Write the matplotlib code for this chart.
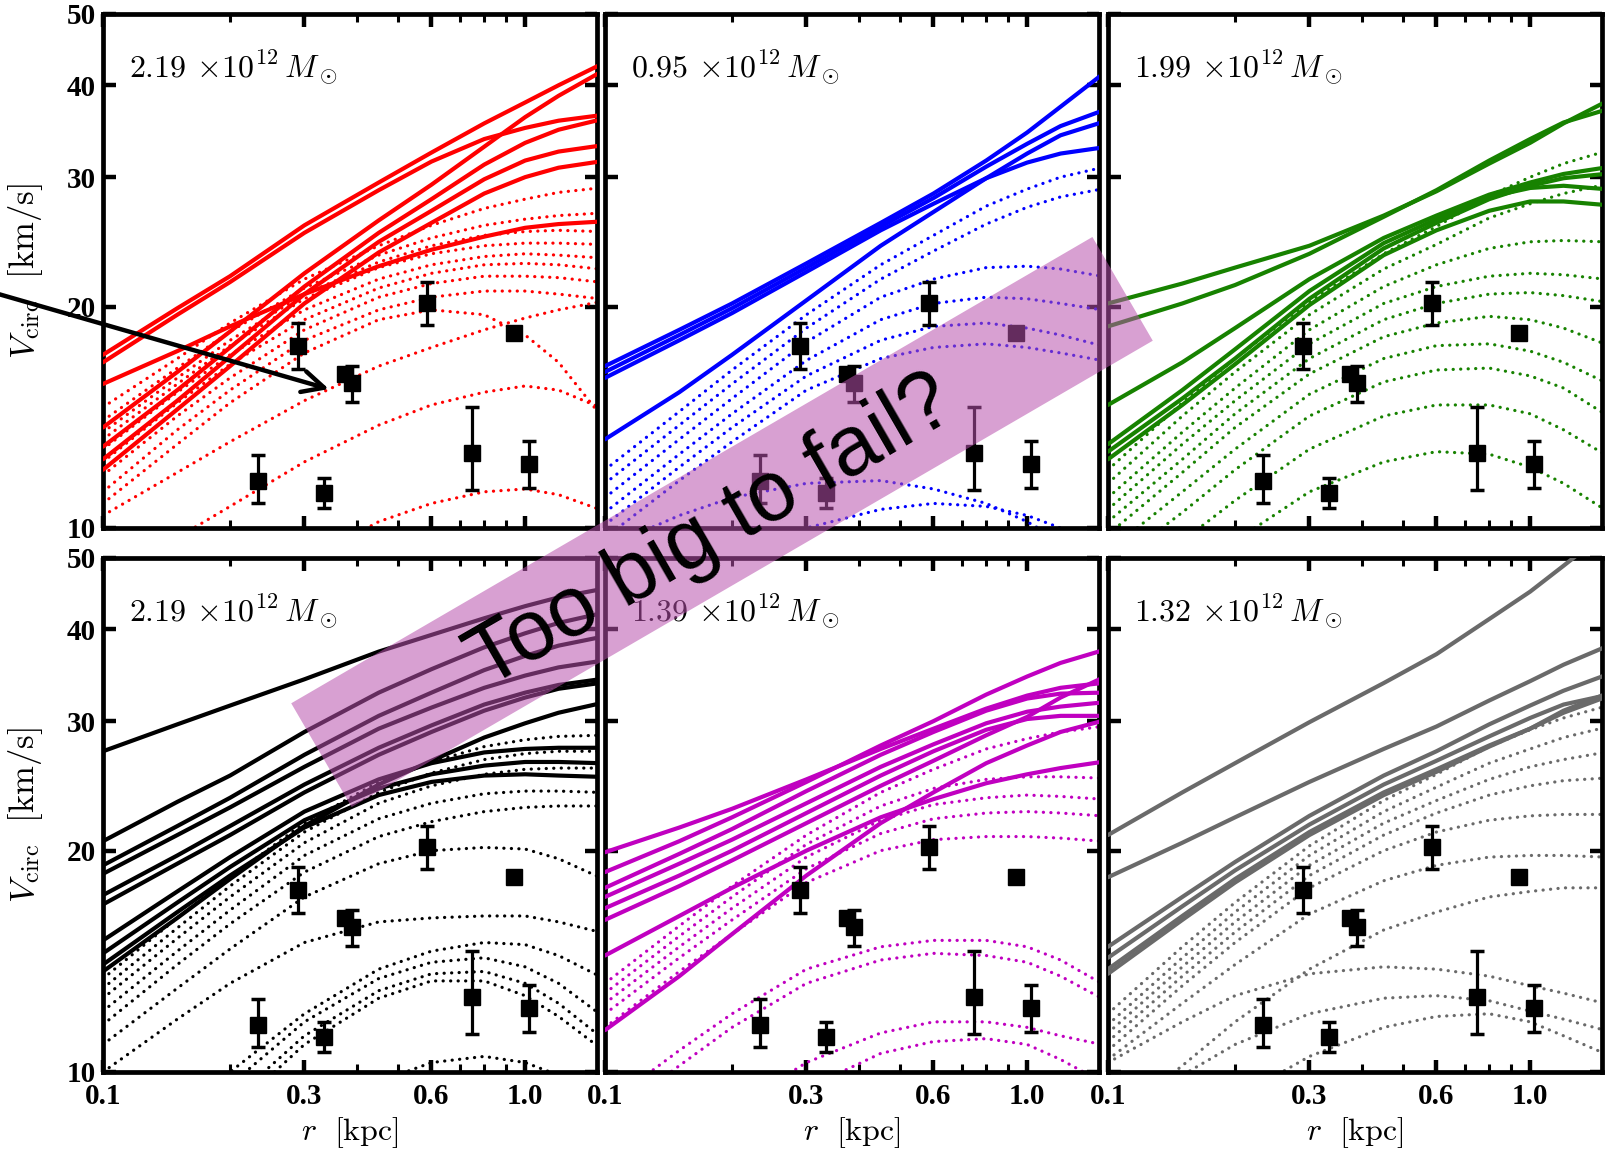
import matplotlib
matplotlib.use('Agg')
import numpy as np
import matplotlib.pyplot as plt
from matplotlib.patches import Polygon
from matplotlib.ticker import FixedLocator, FixedFormatter, NullLocator

plt.rcParams['mathtext.fontset'] = 'cm'

# ---------------- data ----------------
R = [0.1, 0.15, 0.2, 0.3, 0.45, 0.6, 0.8, 1.0, 1.2, 1.5]

obs_r = [0.233, 0.289, 0.333, 0.374, 0.388, 0.586, 0.943, 0.747, 1.02]
obs_v = [11.6, 17.7, 11.15, 16.2, 15.75, 20.2, 18.4, 12.65, 12.2]
obs_lo = [0.8, 1.25, 0.5, 0.0, 0.9, 1.3, 0.0, 1.4, 0.85]
obs_hi = [0.95, 1.3, 0.55, 0.0, 0.85, 1.4, 0.0, 1.95, 0.95]

masses = ['2.19', '0.95', '1.99', '2.19', '1.39', '1.32']
colors = ['#ff0000', '#0000ff', '#178200', '#000000', '#c000c0', '#6a6a6a']

solid_red = [
    [17.2, 19.9, 22.0, 25.8, 29.5, 32.4, 35.5, 37.9, 40.0, 42.6],
    [16.8, 19.5, 21.6, 25.2, 28.8, 31.5, 33.8, 35.0, 35.8, 36.4],
    [13.7, 16.3, 18.5, 22.2, 26.2, 29.3, 33.0, 36.2, 38.7, 41.6],
    [12.9, 15.4, 17.6, 21.3, 25.2, 28.0, 31.2, 33.4, 34.8, 35.9],
    [12.4, 14.9, 17.1, 20.8, 24.5, 27.0, 29.8, 31.6, 32.5, 33.1],
    [12.0, 14.5, 16.6, 20.2, 23.7, 26.0, 28.5, 30.0, 30.9, 31.5],
    [15.7, 17.4, 18.8, 20.8, 22.7, 23.9, 24.9, 25.6, 25.9, 26.1],
]
dotted_red = [
    [14.6, 17.0, 19.0, 21.8, 24.2, 25.8, 27.2, 28.0, 28.6, 29.0],
    [14.0, 16.5, 18.5, 21.2, 23.5, 24.8, 25.8, 26.3, 26.6, 26.8],
    [13.5, 16.0, 18.0, 20.8, 23.0, 24.2, 25.0, 25.3, 25.4, 25.3],
    [13.2, 15.7, 17.7, 20.5, 22.6, 23.6, 24.2, 24.4, 24.4, 24.3],
    [12.8, 15.3, 17.2, 19.8, 21.8, 22.8, 23.4, 23.6, 23.5, 23.3],
    [12.3, 14.8, 16.7, 19.2, 21.2, 22.2, 22.8, 22.9, 22.8, 22.5],
    [11.8, 14.2, 16.0, 18.6, 20.6, 21.5, 22.0, 22.0, 21.9, 21.6],
    [11.2, 13.6, 15.4, 18.0, 19.8, 20.6, 21.0, 21.0, 20.8, 20.5],
    [10.8, 13.0, 14.8, 17.3, 19.2, 19.8, 19.5, 18.3, 16.8, 14.3],
    [10.4, 11.9, 13.1, 14.9, 16.6, 17.6, 18.6, 19.3, 19.8, 20.3],
    [8.2, 9.7, 10.7, 12.3, 13.8, 14.7, 15.3, 15.6, 15.4, 14.6],
    [6.0, 7.0, 7.8, 9.0, 10.2, 10.8, 11.2, 11.3, 11.1, 10.6],
]

solid_blue = [
    [16.6, 18.6, 20.2, 22.9, 26.0, 28.5, 31.6, 34.5, 37.4, 41.3],
    [16.3, 18.3, 19.9, 22.6, 25.7, 28.1, 31.0, 33.3, 35.2, 36.9],
    [16.0, 18.0, 19.6, 22.3, 25.4, 27.6, 29.9, 31.4, 32.3, 32.9],
    [13.2, 15.3, 17.2, 20.4, 24.2, 26.9, 29.9, 32.3, 34.2, 35.6],
]
dotted_blue = [
    [12.0, 14.4, 16.4, 19.5, 22.8, 25.0, 27.4, 28.9, 30.0, 30.9],
    [11.5, 13.8, 15.7, 18.7, 21.8, 23.8, 25.9, 27.3, 28.2, 28.9],
    [11.0, 13.2, 15.0, 17.9, 20.6, 21.8, 22.6, 22.7, 22.5, 22.0],
    [10.5, 12.6, 14.3, 16.9, 19.2, 20.2, 20.6, 20.5, 20.2, 19.8],
    [10.1, 12.1, 13.7, 16.1, 18.0, 18.8, 19.0, 18.7, 18.3, 17.7],
    [9.7, 11.6, 13.1, 15.4, 17.0, 17.6, 17.8, 17.6, 17.3, 16.9],
    [9.4, 10.4, 11.0, 11.5, 11.6, 11.3, 10.8, 10.2, 9.6, 9.0],
    [7.5, 8.4, 9.1, 10.0, 10.6, 10.8, 10.7, 10.4, 10.0, 9.5],
]

solid_green = [
    [20.2, 21.5, 22.6, 24.2, 26.6, 28.7, 31.3, 33.4, 35.5, 37.9],
    [18.8, 20.2, 21.4, 23.6, 26.5, 28.8, 31.6, 33.8, 35.6, 37.0],
    [14.7, 16.8, 18.7, 21.8, 24.8, 26.6, 28.4, 29.5, 30.3, 30.9],
    [12.7, 15.0, 17.0, 20.5, 24.0, 26.0, 28.0, 29.2, 29.9, 30.3],
    [12.4, 14.7, 16.7, 20.1, 23.5, 25.4, 27.0, 27.8, 27.8, 27.5],
    [13.0, 15.4, 17.5, 21.0, 24.4, 26.3, 28.2, 29.0, 29.2, 28.9],
]
dotted_green = [
    [12.0, 14.8, 17.0, 20.3, 23.6, 25.7, 28.3, 30.0, 31.3, 32.5],
    [11.5, 14.2, 16.3, 19.5, 22.5, 24.3, 26.4, 27.6, 28.5, 29.3],
    [11.0, 13.5, 15.5, 18.6, 21.3, 22.8, 24.0, 24.5, 24.6, 24.5],
    [10.6, 13.0, 14.9, 17.8, 20.2, 21.3, 22.0, 22.2, 22.1, 21.8],
    [10.2, 12.4, 14.3, 17.0, 19.2, 20.2, 20.8, 20.9, 20.7, 20.3],
    [9.8, 11.9, 13.7, 16.2, 18.2, 19.0, 19.4, 19.2, 18.7, 17.8],
    [9.3, 11.2, 12.8, 15.2, 17.0, 17.7, 17.8, 17.4, 16.8, 15.8],
    [8.8, 10.5, 12.0, 14.2, 15.8, 16.4, 16.5, 16.1, 15.5, 14.3],
    [8.0, 9.6, 10.9, 12.8, 14.2, 14.7, 14.7, 14.3, 13.6, 12.6],
    [7.2, 8.5, 9.6, 11.2, 12.3, 12.7, 12.6, 12.1, 11.5, 10.6],
]

solid_black = [
    [27.3, 29.7, 31.5, 34.2, 37.3, 39.3, 41.4, 43.0, 44.2, 45.3],
    [20.6, 23.3, 25.3, 29.0, 32.8, 35.3, 37.8, 39.5, 40.8, 42.0],
    [19.1, 21.6, 23.6, 27.0, 30.5, 32.8, 35.2, 36.8, 38.0, 39.0],
    [18.6, 21.0, 22.9, 26.0, 29.3, 31.3, 33.3, 34.6, 35.5, 36.2],
    [17.4, 19.7, 21.6, 24.6, 27.6, 29.6, 31.6, 32.8, 33.6, 34.2],
    [16.9, 19.2, 21.0, 24.0, 27.0, 29.0, 31.0, 32.3, 33.2, 33.8],
    [15.1, 17.6, 19.6, 22.6, 25.0, 26.3, 27.2, 27.5, 27.6, 27.6],
    [14.5, 17.0, 19.0, 22.0, 24.3, 25.4, 26.1, 26.4, 26.4, 26.3],
    [14.0, 16.5, 18.5, 21.5, 23.8, 24.8, 25.3, 25.4, 25.3, 25.2],
    [13.7, 16.2, 18.3, 21.6, 24.6, 26.5, 28.5, 29.8, 30.8, 31.7],
]
dotted_black = [
    [13.4, 16.2, 18.4, 21.8, 24.8, 26.4, 27.7, 28.3, 28.6, 28.7],
    [13.0, 15.7, 17.9, 21.2, 24.0, 25.5, 26.6, 27.1, 27.3, 27.3],
    [12.6, 15.2, 17.3, 20.5, 23.2, 24.5, 25.4, 25.8, 25.9, 25.9],
    [12.1, 14.6, 16.6, 19.7, 22.1, 23.2, 23.9, 24.1, 24.1, 24.0],
    [11.6, 14.0, 15.9, 18.7, 20.9, 21.9, 22.6, 22.9, 23.0, 23.0],
    [10.9, 13.0, 14.7, 17.3, 19.2, 20.0, 20.2, 20.1, 19.5, 18.4],
    [10.0, 11.8, 13.2, 15.0, 16.0, 16.2, 16.3, 16.3, 16.0, 15.5],
    [7.0, 8.6, 10.0, 12.0, 13.8, 14.6, 15.0, 14.9, 14.4, 13.5],
    [6.5, 8.2, 9.6, 11.7, 13.4, 14.1, 14.3, 13.9, 13.2, 12.0],
    [6.0, 7.7, 9.1, 11.2, 12.9, 13.6, 13.7, 13.2, 12.4, 11.2],
    [5.8, 7.4, 8.8, 10.9, 12.6, 13.3, 13.3, 12.7, 11.9, 10.8],
    [5.0, 6.1, 7.0, 8.4, 9.7, 10.3, 10.5, 10.3, 9.9, 9.4],
]

solid_magenta = [
    [19.9, 21.5, 22.8, 25.0, 27.5, 29.3, 31.2, 32.5, 33.3, 33.8],
    [18.7, 20.6, 22.2, 24.8, 27.8, 30.0, 32.6, 34.5, 36.0, 37.4],
    [17.8, 19.8, 21.4, 24.1, 27.0, 29.0, 31.0, 32.2, 32.7, 32.8],
    [17.3, 19.2, 20.7, 23.2, 26.0, 27.9, 29.8, 30.9, 31.4, 31.8],
    [16.7, 18.5, 20.0, 22.5, 25.3, 27.3, 29.2, 30.2, 30.5, 30.5],
    [16.1, 17.9, 19.4, 21.8, 24.5, 26.5, 28.7, 30.4, 32.3, 34.3],
    [14.4, 16.3, 17.8, 20.0, 22.2, 23.5, 24.7, 25.4, 25.9, 26.4],
    [11.4, 13.5, 15.4, 18.5, 21.8, 24.0, 26.3, 27.8, 29.0, 30.0],
]
dotted_magenta = [
    [13.2, 15.8, 17.9, 21.0, 24.0, 25.8, 27.5, 28.4, 29.0, 29.5],
    [12.8, 15.3, 17.3, 20.4, 23.0, 24.3, 25.0, 25.2, 25.2, 25.1],
    [12.4, 14.8, 16.7, 19.6, 22.0, 23.1, 23.6, 23.8, 23.7, 23.5],
    [12.0, 14.3, 16.1, 18.9, 21.1, 22.1, 22.5, 22.6, 22.5, 22.3],
    [11.5, 13.7, 15.4, 18.1, 20.0, 20.7, 20.9, 20.9, 20.8, 20.6],
    [9.0, 10.7, 12.0, 13.8, 14.8, 15.1, 15.1, 14.8, 14.2, 13.2],
    [8.6, 10.2, 11.5, 13.2, 14.2, 14.5, 14.4, 14.1, 13.5, 12.6],
    [6.5, 7.8, 8.9, 10.3, 11.3, 11.7, 11.7, 11.5, 11.2, 10.9],
    [6.0, 7.2, 8.2, 9.5, 10.6, 11.0, 11.1, 10.9, 10.4, 9.7],
]

solid_gray = [
    [21.0, 24.0, 26.3, 29.9, 33.8, 37.0, 41.3, 45.0, 48.8, 54.0],
    [18.4, 20.5, 22.2, 24.8, 27.5, 29.5, 32.0, 34.0, 35.8, 37.8],
    [14.8, 17.3, 19.3, 22.3, 25.3, 27.3, 29.7, 31.5, 33.0, 34.6],
    [14.3, 16.8, 18.8, 21.7, 24.6, 26.5, 28.6, 30.3, 31.6, 32.5],
    [13.8, 16.3, 18.3, 21.2, 24.0, 25.8, 27.8, 29.3, 30.8, 32.3],
    [13.6, 16.1, 18.1, 21.0, 23.8, 25.6, 27.7, 29.3, 31.0, 32.6],
]
dotted_gray = [
    [12.0, 14.8, 17.0, 20.3, 23.4, 25.4, 27.7, 29.2, 30.3, 31.4],
    [11.6, 14.3, 16.5, 19.7, 22.6, 24.4, 26.3, 27.5, 28.5, 29.4],
    [11.3, 13.9, 16.0, 19.1, 21.8, 23.4, 25.0, 26.0, 26.6, 27.2],
    [11.0, 13.5, 15.5, 18.5, 21.0, 22.5, 23.8, 24.5, 24.9, 25.1],
    [10.7, 13.1, 15.0, 17.8, 20.0, 21.2, 22.0, 22.3, 22.4, 22.4],
    [10.4, 12.4, 14.0, 16.4, 18.2, 19.1, 19.6, 19.7, 19.7, 19.6],
    [8.5, 10.2, 11.7, 13.8, 15.6, 16.5, 17.3, 17.6, 17.8, 17.8],
    [10.3, 11.7, 12.7, 13.6, 13.9, 13.8, 13.5, 13.1, 12.8, 12.4],
    [8.5, 9.9, 10.9, 12.0, 12.6, 12.7, 12.5, 12.1, 11.8, 11.4],
    [7.0, 8.2, 9.2, 10.5, 11.5, 11.9, 12.0, 11.7, 11.2, 10.6],
]

solid_sets = [solid_red, solid_blue, solid_green, solid_black, solid_magenta, solid_gray]
dotted_sets = [dotted_red, dotted_blue, dotted_green, dotted_black, dotted_magenta, dotted_gray]

x_major = [0.1, 0.3, 0.6, 1.0]
x_major_labels = ['0.1', '0.3', '0.6', '1.0']
x_minor = [0.2, 0.4, 0.5, 0.7, 0.8, 0.9]
y_major = [10, 20, 30, 40, 50]
y_major_labels = ['10', '20', '30', '40', '50']

# ---------------- layout ----------------
W, H = 1608, 1155
fig = plt.figure(figsize=(W / 100, H / 100), dpi=100)

col_left = [103, 605, 1108]
col_w = 494
row_top = [14, 558]
row_h = 514

tick_font = dict(family='Liberation Serif', weight='bold', size=21)

axes = []
for i in range(6):
    r_i, c_i = divmod(i, 3)
    ax = fig.add_axes([col_left[c_i] / W, 1 - (row_top[r_i] + row_h) / H,
                       col_w / W, row_h / H])
    axes.append(ax)
    col = colors[i]
    for v in dotted_sets[i]:
        ax.plot(R, v, color=col, lw=2.3, dashes=(0.05, 2.3),
                dash_capstyle='round', zorder=2)
    for v in solid_sets[i]:
        ax.plot(R, v, color=col, lw=3.0, solid_capstyle='round',
                solid_joinstyle='round', zorder=3)
    ax.errorbar(obs_r, obs_v, yerr=[obs_lo, obs_hi], fmt='s', color='k',
                ms=11, elinewidth=2.3, capsize=5, capthick=2.5, zorder=5)

    ax.set_xscale('log')
    ax.set_yscale('log')
    ax.set_xlim(0.1, 1.48)
    ax.set_ylim(10, 50)
    ax.xaxis.set_major_locator(FixedLocator(x_major))
    ax.xaxis.set_minor_locator(FixedLocator(x_minor))
    ax.yaxis.set_major_locator(FixedLocator(y_major))
    ax.yaxis.set_minor_locator(NullLocator())
    ax.xaxis.set_major_formatter(FixedFormatter(x_major_labels))
    ax.yaxis.set_major_formatter(FixedFormatter(y_major_labels))
    ax.tick_params(which='major', direction='in', top=True, right=True,
                   length=9, width=3.2, pad=8)
    ax.tick_params(which='minor', direction='in', top=True, right=True,
                   length=5.5, width=2.2)
    ax.tick_params(axis='y', which='major', pad=5)
    for s in ax.spines.values():
        s.set_linewidth(3.4)
    for lab in ax.get_xticklabels() + ax.get_yticklabels():
        lab.set_fontfamily(tick_font['family'])
        lab.set_fontweight(tick_font['weight'])
        lab.set_fontsize(tick_font['size'])
    if r_i == 0:
        ax.tick_params(axis='x', which='both', labelbottom=False)
    else:
        ax.set_xlabel(r'$r\ \ [{\rm kpc}]$', fontsize=23)
        ax.xaxis.set_label_coords(0.5, -0.083)
    if c_i != 0:
        ax.tick_params(axis='y', which='both', labelleft=False)
    else:
        ax.set_ylabel(r'$V_{\rm circ}\ \ [{\rm km/s}]$', fontsize=25)
        ax.yaxis.set_label_coords(-0.118, 0.5)
    ax.text(0.052, 0.895, r'$%s\,\times\!10^{12}\,M_\odot$' % masses[i],
            transform=ax.transAxes, fontsize=23, ha='left', va='center',
            zorder=6)

# arrow pointing at an observed point in the first panel
axes[0].annotate('', xy=(0.343, 15.45), xycoords='data',
                 xytext=(0.055, 20.9), textcoords='data',
                 arrowprops=dict(arrowstyle='->,head_length=0.65,head_width=0.32',
                                 lw=3.2, color='k', mutation_scale=24,
                                 shrinkA=0, shrinkB=0),
                 annotation_clip=False, zorder=7)

# translucent banner
cx, cy = 722, 522          # centre, image pixels (y down)
L, Wd = 927, 120           # length / width in pixels
ang = np.deg2rad(30.2)
u = np.array([np.cos(ang), np.sin(ang)])
n = np.array([-np.sin(ang), np.cos(ang)])
c = np.array([cx, H - cy])
corners = [c - u * L / 2 - n * Wd / 2, c + u * L / 2 - n * Wd / 2,
           c + u * L / 2 + n * Wd / 2, c - u * L / 2 + n * Wd / 2]
corners = [(p[0] / W, p[1] / H) for p in corners]
fig.add_artist(Polygon(corners, closed=True, transform=fig.transFigure,
                       facecolor=(0.72, 0.32, 0.68), alpha=0.55,
                       edgecolor='none', zorder=10))
fig.text(712 / W, 1 - 533 / H, 'Too big to fail?', fontsize=61,
         family='Liberation Sans', rotation=30, rotation_mode='anchor',
         ha='center', va='center', color='k', zorder=11)

fig.savefig('out.png', dpi=100)
